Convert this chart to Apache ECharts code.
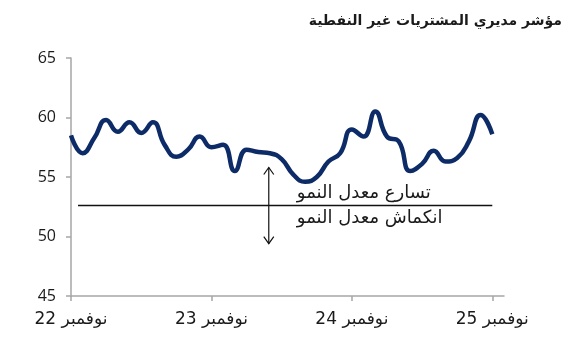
<!DOCTYPE html>
<html>
<head>
<meta charset="utf-8">
<script src="https://cdn.jsdelivr.net/npm/echarts@6/dist/echarts.min.js"></script>
<style>
  html, body { margin: 0; padding: 0; background: #fff; }
  #chart { width: 585px; height: 344px; }
</style>
</head>
<body>
<div id="chart"></div>
<script>
// Non-oil PMI, monthly readings from November 2022 to November 2025
const pmi = [
  58.5, 57.0, 58.3, 59.8, 58.8, 59.6, 58.7, 59.6, 57.7, 56.7, 57.3, 58.4,
  57.5, 57.7, 55.5, 57.3, 57.1, 57.0, 56.5, 55.2, 54.6, 55.0, 56.3, 57.0,
  59.0, 58.4, 60.5, 58.4, 58.0, 55.5, 56.1, 57.2, 56.3, 56.6, 58.0, 60.2,
  58.6
];
// Month offsets of the labelled ticks and their labels
const tickMonths = [0, 12, 24, 36];
const tickLabels = ['نوفمبر 22', 'نوفمبر 23', 'نوفمبر 24', 'نوفمبر 25'];
// Growth threshold line and the accelerate / contract annotation
const threshold = [[0.6, 36, 52.6]];
const arrow = [[16.9, 55.8, 49.4]];
const notes = [
  [19.3, 53.6, 'تسارع معدل النمو'],
  [19.3, 51.5, 'انكماش معدل النمو']
];
const title = 'مؤشر مديري المشتريات غير النفطية';

const chart = echarts.init(document.getElementById('chart'));
const axisGray = '#a6a6a6';
const textFont = '"DejaVu Sans", "Noto Sans", sans-serif';

chart.setOption({
  animation: false,
  title: {
    text: title,
    right: 18,
    top: 9,
    textStyle: { fontSize: 14, fontWeight: 'bold', color: '#1a1a1a', fontFamily: textFont }
  },
  grid: { left: 71, right: 81, top: 58, bottom: 48 },
  xAxis: {
    type: 'value',
    min: 0,
    max: 37,
    interval: 12,
    splitLine: { show: false },
    axisLine: { show: true, lineStyle: { color: axisGray, width: 1.5 } },
    axisTick: { show: true, length: 5, lineStyle: { color: axisGray, width: 1.5 }, customValues: tickMonths },
    axisLabel: {
      customValues: tickMonths,
      margin: 15,
      fontSize: 17,
      color: '#1a1a1a',
      fontFamily: textFont,
      formatter: v => tickLabels[tickMonths.indexOf(v)] || ''
    }
  },
  yAxis: {
    type: 'value',
    min: 45,
    max: 65,
    interval: 5,
    splitLine: { show: false },
    axisLine: { show: true, lineStyle: { color: axisGray, width: 1.5 } },
    axisTick: { show: true, length: 5, lineStyle: { color: axisGray, width: 1.5 } },
    axisLabel: { margin: 15, fontSize: 16, color: '#1a1a1a', fontFamily: '"Open Sans", sans-serif' }
  },
  series: [
    {
      type: 'line',
      data: pmi.map((v, i) => [i, v]),
      smooth: 0.5,
      symbol: 'none',
      lineStyle: { color: '#0c2b67', width: 4.5 },
      z: 3
    },
    {
      type: 'custom',
      data: threshold,
      renderItem: (params, api) => {
        const a = api.coord([api.value(0), api.value(2)]);
        const b = api.coord([api.value(1), api.value(2)]);
        return {
          type: 'line',
          shape: { x1: a[0], y1: a[1], x2: b[0], y2: b[1] },
          style: { stroke: '#111', lineWidth: 1.5 }
        };
      },
      z: 2
    },
    {
      type: 'custom',
      data: arrow,
      renderItem: (params, api) => {
        const top = api.coord([api.value(0), api.value(1)]);
        const bot = api.coord([api.value(0), api.value(2)]);
        const x = top[0], h = 7, w = 5;
        const style = { stroke: '#111', lineWidth: 1.2, fill: null };
        return {
          type: 'group',
          children: [
            { type: 'line', shape: { x1: x, y1: top[1], x2: x, y2: bot[1] }, style },
            { type: 'polyline', shape: { points: [[x - w, top[1] + h], [x, top[1]], [x + w, top[1] + h]] }, style },
            { type: 'polyline', shape: { points: [[x - w, bot[1] - h], [x, bot[1]], [x + w, bot[1] - h]] }, style }
          ]
        };
      },
      z: 2
    },
    {
      type: 'custom',
      data: notes,
      renderItem: (params, api) => {
        const p = api.coord([api.value(0), api.value(1)]);
        return {
          type: 'text',
          x: p[0],
          y: p[1],
          style: {
            text: notes[params.dataIndex][2],
            fontSize: 18,
            fontFamily: textFont,
            fill: '#1a1a1a',
            align: 'left',
            verticalAlign: 'middle'
          }
        };
      },
      z: 4
    }
  ]
});
</script>
</body>
</html>
